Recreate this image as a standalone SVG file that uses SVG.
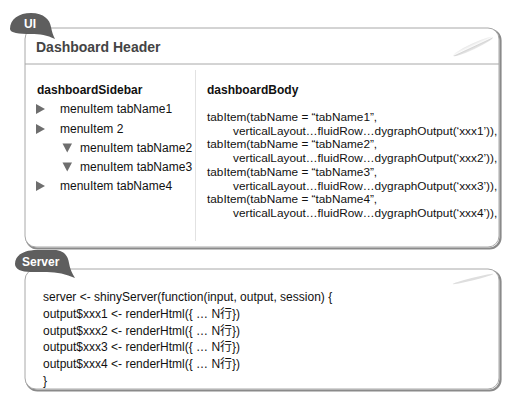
<svg xmlns="http://www.w3.org/2000/svg" width="517" height="409" viewBox="0 0 517 409">
<style>
.box{fill:#fff;stroke:#a8a8a8;stroke-width:1}
.shadow{fill:none;stroke:#8a8a8a;stroke-width:2.2}
.tab{fill:#5e5e5e}
.tabtxt{font-family:"Liberation Sans",Arial,sans-serif;font-weight:bold;font-size:12px;fill:#fff}
.hdr{font-family:"Liberation Sans",Arial,sans-serif;font-weight:bold;font-size:14px;fill:#444}
.ttl{font-family:"Liberation Sans",Arial,sans-serif;font-weight:bold;font-size:12px;fill:#111}
.t{font-family:"Liberation Sans","Noto Sans CJK JP",Arial,sans-serif;font-size:12px;fill:#111}
.tb{font-family:"Liberation Sans",Arial,sans-serif;font-size:11.8px;fill:#111}
.tri{fill:#6e6e6e}
</style>
<defs>
<linearGradient id="pen" x1="0" y1="0" x2="0" y2="1">
<stop offset="0" stop-color="#e6e6e6"/>
<stop offset="0.45" stop-color="#fafafa"/>
<stop offset="0.6" stop-color="#d6d6d6"/>
<stop offset="1" stop-color="#ececec"/>
</linearGradient>
</defs>
<g id="ui">
<rect x="26.5" y="29.5" width="474" height="219" rx="11" class="shadow"/>
<rect x="25" y="28" width="474" height="219" rx="11" class="box"/>
<line x1="25" y1="64" x2="499" y2="64" stroke="#a8a8a8"/>
<line x1="195.5" y1="70" x2="195.5" y2="241" stroke="#e2e2e2"/>
<ellipse cx="473" cy="46.5" rx="22" ry="3" transform="rotate(-25 473 46.5)" fill="url(#pen)"/>
<path class="tab" d="M10,29 C10,19 19,13 31,13 C44,13 50,20 51,27 C52,32 53,35 55,39 C47,35 40,34 31,34 C19,34 10,33 10,29 Z"/>
<text x="24" y="28" class="tabtxt">UI</text>
<text x="36" y="52" class="hdr">Dashboard Header</text>
<text x="37" y="94" class="ttl">dashboardSidebar</text>
<polygon class="tri" points="36,104 45,109 36,114"/>
<text x="60" y="113" class="t">menuItem tabName1</text>
<polygon class="tri" points="36,124 45,129 36,134"/>
<text x="60" y="133" class="t">menuItem 2</text>
<polygon class="tri" points="62.5,143.5 72,143.5 67.25,152.5"/>
<text x="80" y="152" class="t">menuItem tabName2</text>
<polygon class="tri" points="62.5,162.5 72,162.5 67.25,171.5"/>
<text x="80" y="171" class="t">menuItem tabName3</text>
<polygon class="tri" points="36,181 45,186 36,191"/>
<text x="60" y="190" class="t">menuItem tabName4</text>
<text x="207" y="94" class="ttl">dashboardBody</text>
<text x="207" y="121" class="tb">tabItem(tabName = “tabName1”,</text>
<text x="233" y="134.7" class="tb">verticalLayout…fluidRow…dygraphOutput(‘xxx1’)),</text>
<text x="207" y="148.4" class="tb">tabItem(tabName = “tabName2”,</text>
<text x="233" y="162.1" class="tb">verticalLayout…fluidRow…dygraphOutput(‘xxx2’)),</text>
<text x="207" y="175.8" class="tb">tabItem(tabName = “tabName3”,</text>
<text x="233" y="189.5" class="tb">verticalLayout…fluidRow…dygraphOutput(‘xxx3’)),</text>
<text x="207" y="203.2" class="tb">tabItem(tabName = “tabName4”,</text>
<text x="233" y="216.9" class="tb">verticalLayout…fluidRow…dygraphOutput(‘xxx4’)),</text>
</g>
<g id="server">
<rect x="26.5" y="270.5" width="474" height="120" rx="11" class="shadow"/>
<rect x="25" y="269" width="474" height="120" rx="11" class="box"/>
<ellipse cx="473" cy="279" rx="21" ry="1.2" transform="rotate(-14 473 279)" fill="#dedede"/>
<path class="tab" d="M15,264 C15,255 24,250 37,250 L54,250 C64,250 68,256 69,263 C70,269 72,273 75,278 C66,274 57,272 47,272 L31,272 C21,272 15,269 15,264 Z"/>
<text x="22" y="266" class="tabtxt">Server</text>
<text x="43" y="301" class="t">server &lt;- shinyServer(function(input, output, session) {</text>
<text x="43" y="317.8" class="t">output$xxx1 &lt;- renderHtml({ … N行})</text>
<text x="43" y="334.6" class="t">output$xxx2 &lt;- renderHtml({ … N行})</text>
<text x="43" y="351.4" class="t">output$xxx3 &lt;- renderHtml({ … N行})</text>
<text x="43" y="368.2" class="t">output$xxx4 &lt;- renderHtml({ … N行})</text>
<text x="43" y="385" class="t">}</text>
</g>
<g id="connectors"></g>
</svg>
